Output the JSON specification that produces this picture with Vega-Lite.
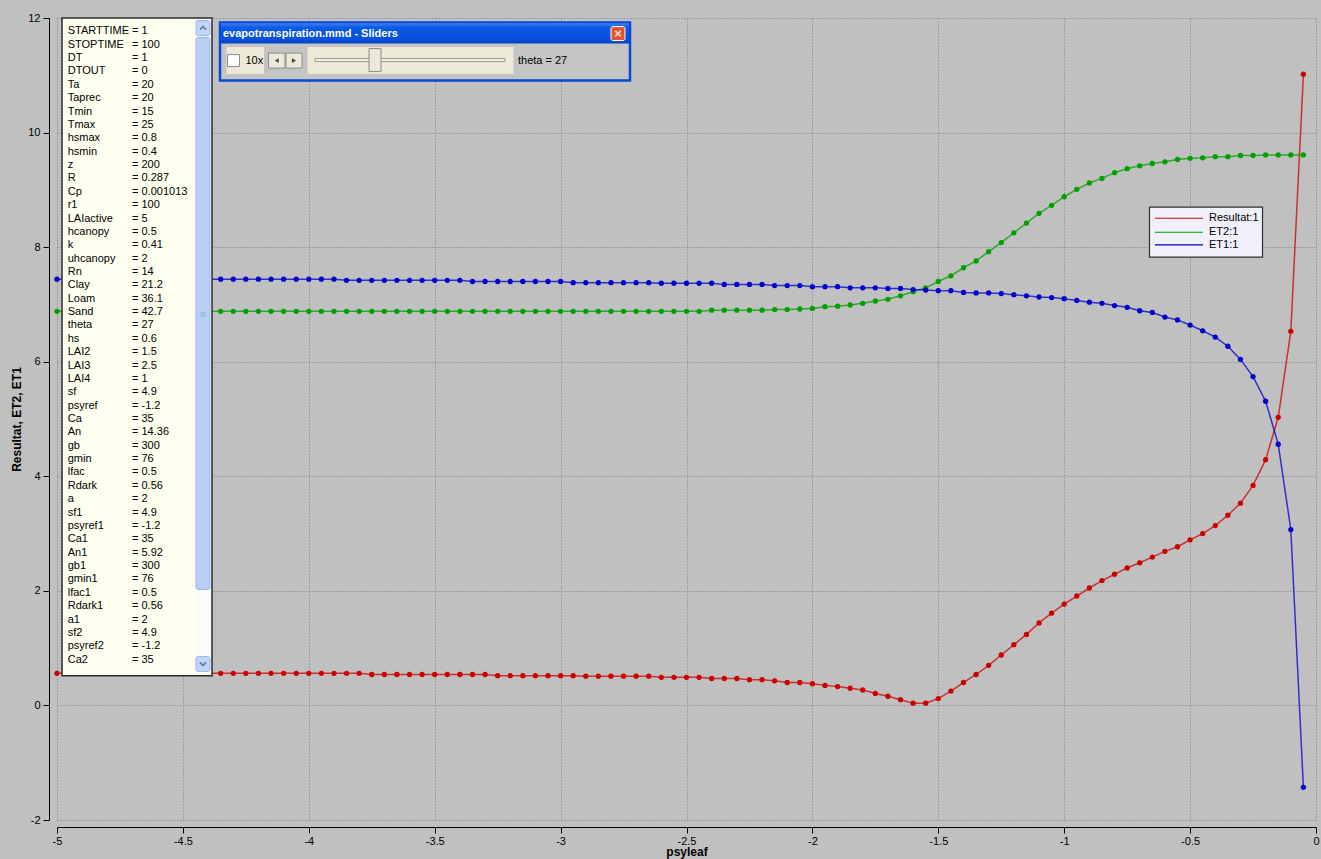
{
  "$schema": "https://vega.github.io/schema/vega-lite/v6.json",
  "width": 1259,
  "height": 802,
  "autosize": "none",
  "padding": {"left": 57, "top": 18, "right": 5, "bottom": 39},
  "background": "#C0C0C0",
  "config": {
    "view": {"stroke": null},
    "font": "Liberation Sans",
    "axis": {
      "labelFont": "Liberation Sans",
      "labelFontSize": 11,
      "labelColor": "#000000",
      "titleFont": "Liberation Sans",
      "titleFontSize": 12,
      "titleFontWeight": "bold",
      "titleColor": "#000000",
      "domainColor": "#000000",
      "tickColor": "#000000",
      "gridColor": "#7C7C7C",
      "gridDash": [1, 2],
      "gridWidth": 1,
      "labelFlush": false,
      "labelOverlap": false
    }
  },
  "datasets": {
    "series": [
      {"psyleaf": -5.00, "Resultat": 0.56, "ET2": 6.88, "ET1": 7.44},
      {"psyleaf": -4.95, "Resultat": 0.56, "ET2": 6.88, "ET1": 7.44},
      {"psyleaf": -4.90, "Resultat": 0.56, "ET2": 6.88, "ET1": 7.44},
      {"psyleaf": -4.85, "Resultat": 0.56, "ET2": 6.88, "ET1": 7.44},
      {"psyleaf": -4.80, "Resultat": 0.56, "ET2": 6.88, "ET1": 7.44},
      {"psyleaf": -4.75, "Resultat": 0.56, "ET2": 6.88, "ET1": 7.44},
      {"psyleaf": -4.70, "Resultat": 0.56, "ET2": 6.88, "ET1": 7.44},
      {"psyleaf": -4.65, "Resultat": 0.56, "ET2": 6.88, "ET1": 7.44},
      {"psyleaf": -4.60, "Resultat": 0.56, "ET2": 6.88, "ET1": 7.44},
      {"psyleaf": -4.55, "Resultat": 0.56, "ET2": 6.88, "ET1": 7.44},
      {"psyleaf": -4.50, "Resultat": 0.56, "ET2": 6.88, "ET1": 7.44},
      {"psyleaf": -4.45, "Resultat": 0.56, "ET2": 6.88, "ET1": 7.44},
      {"psyleaf": -4.40, "Resultat": 0.56, "ET2": 6.88, "ET1": 7.44},
      {"psyleaf": -4.35, "Resultat": 0.56, "ET2": 6.88, "ET1": 7.44},
      {"psyleaf": -4.30, "Resultat": 0.56, "ET2": 6.88, "ET1": 7.44},
      {"psyleaf": -4.25, "Resultat": 0.56, "ET2": 6.88, "ET1": 7.44},
      {"psyleaf": -4.20, "Resultat": 0.56, "ET2": 6.88, "ET1": 7.44},
      {"psyleaf": -4.15, "Resultat": 0.56, "ET2": 6.88, "ET1": 7.44},
      {"psyleaf": -4.10, "Resultat": 0.56, "ET2": 6.88, "ET1": 7.44},
      {"psyleaf": -4.05, "Resultat": 0.56, "ET2": 6.88, "ET1": 7.44},
      {"psyleaf": -4.00, "Resultat": 0.56, "ET2": 6.88, "ET1": 7.44},
      {"psyleaf": -3.95, "Resultat": 0.56, "ET2": 6.88, "ET1": 7.44},
      {"psyleaf": -3.90, "Resultat": 0.56, "ET2": 6.88, "ET1": 7.44},
      {"psyleaf": -3.85, "Resultat": 0.56, "ET2": 6.88, "ET1": 7.42},
      {"psyleaf": -3.80, "Resultat": 0.56, "ET2": 6.88, "ET1": 7.42},
      {"psyleaf": -3.75, "Resultat": 0.54, "ET2": 6.88, "ET1": 7.42},
      {"psyleaf": -3.70, "Resultat": 0.54, "ET2": 6.88, "ET1": 7.42},
      {"psyleaf": -3.65, "Resultat": 0.54, "ET2": 6.88, "ET1": 7.42},
      {"psyleaf": -3.60, "Resultat": 0.54, "ET2": 6.88, "ET1": 7.42},
      {"psyleaf": -3.55, "Resultat": 0.54, "ET2": 6.88, "ET1": 7.42},
      {"psyleaf": -3.50, "Resultat": 0.54, "ET2": 6.88, "ET1": 7.42},
      {"psyleaf": -3.45, "Resultat": 0.54, "ET2": 6.88, "ET1": 7.42},
      {"psyleaf": -3.40, "Resultat": 0.54, "ET2": 6.88, "ET1": 7.42},
      {"psyleaf": -3.35, "Resultat": 0.54, "ET2": 6.88, "ET1": 7.40},
      {"psyleaf": -3.30, "Resultat": 0.54, "ET2": 6.88, "ET1": 7.40},
      {"psyleaf": -3.25, "Resultat": 0.52, "ET2": 6.88, "ET1": 7.40},
      {"psyleaf": -3.20, "Resultat": 0.52, "ET2": 6.88, "ET1": 7.40},
      {"psyleaf": -3.15, "Resultat": 0.52, "ET2": 6.88, "ET1": 7.40},
      {"psyleaf": -3.10, "Resultat": 0.52, "ET2": 6.88, "ET1": 7.40},
      {"psyleaf": -3.05, "Resultat": 0.52, "ET2": 6.88, "ET1": 7.40},
      {"psyleaf": -3.00, "Resultat": 0.52, "ET2": 6.88, "ET1": 7.40},
      {"psyleaf": -2.95, "Resultat": 0.52, "ET2": 6.88, "ET1": 7.38},
      {"psyleaf": -2.90, "Resultat": 0.51, "ET2": 6.88, "ET1": 7.38},
      {"psyleaf": -2.85, "Resultat": 0.51, "ET2": 6.88, "ET1": 7.38},
      {"psyleaf": -2.80, "Resultat": 0.51, "ET2": 6.88, "ET1": 7.38},
      {"psyleaf": -2.75, "Resultat": 0.51, "ET2": 6.88, "ET1": 7.38},
      {"psyleaf": -2.70, "Resultat": 0.51, "ET2": 6.88, "ET1": 7.38},
      {"psyleaf": -2.65, "Resultat": 0.51, "ET2": 6.88, "ET1": 7.38},
      {"psyleaf": -2.60, "Resultat": 0.49, "ET2": 6.88, "ET1": 7.37},
      {"psyleaf": -2.55, "Resultat": 0.49, "ET2": 6.88, "ET1": 7.37},
      {"psyleaf": -2.50, "Resultat": 0.49, "ET2": 6.88, "ET1": 7.37},
      {"psyleaf": -2.45, "Resultat": 0.49, "ET2": 6.88, "ET1": 7.37},
      {"psyleaf": -2.40, "Resultat": 0.47, "ET2": 6.90, "ET1": 7.37},
      {"psyleaf": -2.35, "Resultat": 0.47, "ET2": 6.90, "ET1": 7.35},
      {"psyleaf": -2.30, "Resultat": 0.47, "ET2": 6.90, "ET1": 7.35},
      {"psyleaf": -2.25, "Resultat": 0.45, "ET2": 6.90, "ET1": 7.35},
      {"psyleaf": -2.20, "Resultat": 0.45, "ET2": 6.90, "ET1": 7.35},
      {"psyleaf": -2.15, "Resultat": 0.43, "ET2": 6.91, "ET1": 7.33},
      {"psyleaf": -2.10, "Resultat": 0.40, "ET2": 6.91, "ET1": 7.33},
      {"psyleaf": -2.05, "Resultat": 0.40, "ET2": 6.92, "ET1": 7.33},
      {"psyleaf": -2.00, "Resultat": 0.38, "ET2": 6.93, "ET1": 7.31},
      {"psyleaf": -1.95, "Resultat": 0.35, "ET2": 6.96, "ET1": 7.31},
      {"psyleaf": -1.90, "Resultat": 0.33, "ET2": 6.97, "ET1": 7.31},
      {"psyleaf": -1.85, "Resultat": 0.30, "ET2": 6.99, "ET1": 7.29},
      {"psyleaf": -1.80, "Resultat": 0.27, "ET2": 7.02, "ET1": 7.29},
      {"psyleaf": -1.75, "Resultat": 0.21, "ET2": 7.06, "ET1": 7.29},
      {"psyleaf": -1.70, "Resultat": 0.16, "ET2": 7.09, "ET1": 7.28},
      {"psyleaf": -1.65, "Resultat": 0.10, "ET2": 7.15, "ET1": 7.28},
      {"psyleaf": -1.60, "Resultat": 0.04, "ET2": 7.22, "ET1": 7.26},
      {"psyleaf": -1.55, "Resultat": 0.04, "ET2": 7.29, "ET1": 7.25},
      {"psyleaf": -1.50, "Resultat": 0.12, "ET2": 7.40, "ET1": 7.24},
      {"psyleaf": -1.45, "Resultat": 0.25, "ET2": 7.50, "ET1": 7.24},
      {"psyleaf": -1.40, "Resultat": 0.40, "ET2": 7.64, "ET1": 7.21},
      {"psyleaf": -1.35, "Resultat": 0.54, "ET2": 7.76, "ET1": 7.20},
      {"psyleaf": -1.30, "Resultat": 0.70, "ET2": 7.92, "ET1": 7.20},
      {"psyleaf": -1.25, "Resultat": 0.88, "ET2": 8.08, "ET1": 7.19},
      {"psyleaf": -1.20, "Resultat": 1.06, "ET2": 8.25, "ET1": 7.17},
      {"psyleaf": -1.15, "Resultat": 1.24, "ET2": 8.42, "ET1": 7.15},
      {"psyleaf": -1.10, "Resultat": 1.44, "ET2": 8.59, "ET1": 7.13},
      {"psyleaf": -1.05, "Resultat": 1.61, "ET2": 8.73, "ET1": 7.12},
      {"psyleaf": -1.00, "Resultat": 1.77, "ET2": 8.88, "ET1": 7.10},
      {"psyleaf": -0.95, "Resultat": 1.91, "ET2": 9.01, "ET1": 7.07},
      {"psyleaf": -0.90, "Resultat": 2.05, "ET2": 9.12, "ET1": 7.04},
      {"psyleaf": -0.85, "Resultat": 2.18, "ET2": 9.20, "ET1": 7.02},
      {"psyleaf": -0.80, "Resultat": 2.29, "ET2": 9.30, "ET1": 6.98},
      {"psyleaf": -0.75, "Resultat": 2.40, "ET2": 9.37, "ET1": 6.95},
      {"psyleaf": -0.70, "Resultat": 2.49, "ET2": 9.42, "ET1": 6.89},
      {"psyleaf": -0.65, "Resultat": 2.59, "ET2": 9.46, "ET1": 6.86},
      {"psyleaf": -0.60, "Resultat": 2.69, "ET2": 9.49, "ET1": 6.78},
      {"psyleaf": -0.55, "Resultat": 2.77, "ET2": 9.53, "ET1": 6.73},
      {"psyleaf": -0.50, "Resultat": 2.89, "ET2": 9.55, "ET1": 6.64},
      {"psyleaf": -0.45, "Resultat": 3.00, "ET2": 9.56, "ET1": 6.54},
      {"psyleaf": -0.40, "Resultat": 3.14, "ET2": 9.58, "ET1": 6.43},
      {"psyleaf": -0.35, "Resultat": 3.32, "ET2": 9.58, "ET1": 6.27},
      {"psyleaf": -0.30, "Resultat": 3.53, "ET2": 9.60, "ET1": 6.04},
      {"psyleaf": -0.25, "Resultat": 3.84, "ET2": 9.60, "ET1": 5.74},
      {"psyleaf": -0.20, "Resultat": 4.29, "ET2": 9.61, "ET1": 5.31},
      {"psyleaf": -0.15, "Resultat": 5.03, "ET2": 9.61, "ET1": 4.56},
      {"psyleaf": -0.10, "Resultat": 6.53, "ET2": 9.61, "ET1": 3.07},
      {"psyleaf": -0.05, "Resultat": 11.02, "ET2": 9.61, "ET1": -1.43}
    ],
    "params": [
      {"i": 1, "name": "STARTTIME", "val": "= 1"},
      {"i": 2, "name": "STOPTIME", "val": "= 100"},
      {"i": 3, "name": "DT", "val": "= 1"},
      {"i": 4, "name": "DTOUT", "val": "= 0"},
      {"i": 5, "name": "Ta", "val": "= 20"},
      {"i": 6, "name": "Taprec", "val": "= 20"},
      {"i": 7, "name": "Tmin", "val": "= 15"},
      {"i": 8, "name": "Tmax", "val": "= 25"},
      {"i": 9, "name": "hsmax", "val": "= 0.8"},
      {"i": 10, "name": "hsmin", "val": "= 0.4"},
      {"i": 11, "name": "z", "val": "= 200"},
      {"i": 12, "name": "R", "val": "= 0.287"},
      {"i": 13, "name": "Cp", "val": "= 0.001013"},
      {"i": 14, "name": "r1", "val": "= 100"},
      {"i": 15, "name": "LAIactive", "val": "= 5"},
      {"i": 16, "name": "hcanopy", "val": "= 0.5"},
      {"i": 17, "name": "k", "val": "= 0.41"},
      {"i": 18, "name": "uhcanopy", "val": "= 2"},
      {"i": 19, "name": "Rn", "val": "= 14"},
      {"i": 20, "name": "Clay", "val": "= 21.2"},
      {"i": 21, "name": "Loam", "val": "= 36.1"},
      {"i": 22, "name": "Sand", "val": "= 42.7"},
      {"i": 23, "name": "theta", "val": "= 27"},
      {"i": 24, "name": "hs", "val": "= 0.6"},
      {"i": 25, "name": "LAI2", "val": "= 1.5"},
      {"i": 26, "name": "LAI3", "val": "= 2.5"},
      {"i": 27, "name": "LAI4", "val": "= 1"},
      {"i": 28, "name": "sf", "val": "= 4.9"},
      {"i": 29, "name": "psyref", "val": "= -1.2"},
      {"i": 30, "name": "Ca", "val": "= 35"},
      {"i": 31, "name": "An", "val": "= 14.36"},
      {"i": 32, "name": "gb", "val": "= 300"},
      {"i": 33, "name": "gmin", "val": "= 76"},
      {"i": 34, "name": "lfac", "val": "= 0.5"},
      {"i": 35, "name": "Rdark", "val": "= 0.56"},
      {"i": 36, "name": "a", "val": "= 2"},
      {"i": 37, "name": "sf1", "val": "= 4.9"},
      {"i": 38, "name": "psyref1", "val": "= -1.2"},
      {"i": 39, "name": "Ca1", "val": "= 35"},
      {"i": 40, "name": "An1", "val": "= 5.92"},
      {"i": 41, "name": "gb1", "val": "= 300"},
      {"i": 42, "name": "gmin1", "val": "= 76"},
      {"i": 43, "name": "lfac1", "val": "= 0.5"},
      {"i": 44, "name": "Rdark1", "val": "= 0.56"},
      {"i": 45, "name": "a1", "val": "= 2"},
      {"i": 46, "name": "sf2", "val": "= 4.9"},
      {"i": 47, "name": "psyref2", "val": "= -1.2"},
      {"i": 48, "name": "Ca2", "val": "= 35"}
    ]
  },
  "layer": [
    {
      "layer": [
        {
          "data": {"name": "series"},
          "transform": [{"fold": ["Resultat", "ET2", "ET1"], "as": ["series", "value"]}],
          "encoding": {
            "x": {
              "field": "psyleaf",
              "type": "quantitative",
              "scale": {"domain": [-5, 0], "nice": false, "zero": false},
              "axis": {
                "values": [-5, -4.5, -4, -3.5, -3, -2.5, -2, -1.5, -1, -0.5, 0],
                "title": "psyleaf",
                "labelExpr": "datum.value + ''",
                "offset": 7,
                "tickSize": 6,
                "labelPadding": 2,
                "titlePadding": 0,
                "grid": true
              }
            },
            "y": {
              "field": "value",
              "type": "quantitative",
              "scale": {"domain": [-2, 12], "nice": false, "zero": false},
              "axis": {
                "values": [-2, 0, 2, 4, 6, 8, 10, 12],
                "title": "Resultat, ET2, ET1",
                "labelExpr": "datum.value + ''",
                "offset": 8,
                "tickSize": 6,
                "labelPadding": 3,
                "titlePadding": 4,
                "grid": true
              }
            },
            "color": {
              "field": "series",
              "type": "nominal",
              "scale": {"domain": ["Resultat", "ET2", "ET1"], "range": ["#CC0000", "#00A000", "#0000CC"]},
              "legend": null
            }
          },
          "layer": [
            {"mark": {"type": "line", "strokeWidth": 1.5, "opacity": 0.75}},
            {"mark": {"type": "point", "filled": true, "size": 28, "opacity": 1}}
          ]
        },
        {
          "data": {"values": [{"a": 1}]},
          "mark": {"type": "rect", "fill": "#FFFFF0", "stroke": "#2B2B2B", "strokeWidth": 1.5},
          "encoding": {
            "x": {"datum": -4.9801},
            "x2": {"datum": -4.3844},
            "y": {"datum": 12},
            "y2": {"datum": 0.52}
          }
        },
        {
          "data": {"values": [{"a": 1}]},
          "mark": {"type": "rect", "fill": "#FBFBF8", "stroke": null},
          "encoding": {
            "x": {"datum": -4.452},
            "x2": {"datum": -4.3884},
            "y": {"datum": 11.98},
            "y2": {"datum": 0.54}
          }
        },
        {
          "data": {"values": [{"a": 1}]},
          "mark": {"type": "rect", "fill": "#C1D4FA", "stroke": "#9DB5EA", "strokeWidth": 1, "cornerRadius": 2},
          "encoding": {"x": {"datum": -4.448}, "x2": {"datum": -4.3924}, "y": {"datum": 11.955}, "y2": {"datum": 11.693}}
        },
        {
          "data": {"values": [{"a": 1}]},
          "mark": {"type": "rect", "fill": "#BACFF8", "stroke": "#9DB5EA", "strokeWidth": 1, "cornerRadius": 2},
          "encoding": {"x": {"datum": -4.448}, "x2": {"datum": -4.3924}, "y": {"datum": 11.658}, "y2": {"datum": 2.0244}}
        },
        {
          "data": {"values": [{"a": 1}]},
          "mark": {"type": "rect", "fill": "#C1D4FA", "stroke": "#9DB5EA", "strokeWidth": 1, "cornerRadius": 2},
          "encoding": {"x": {"datum": -4.448}, "x2": {"datum": -4.3924}, "y": {"datum": 0.855}, "y2": {"datum": 0.5934}}
        },
        {
          "data": {"values": [{"a": 1}]},
          "mark": {"type": "point", "shape": "M-1,0.5L0,-0.5L1,0.5", "filled": false, "stroke": "#4D6185", "strokeWidth": 2, "size": 36},
          "encoding": {"x": {"datum": -4.4202}, "y": {"datum": 11.824}}
        },
        {
          "data": {"values": [{"a": 1}]},
          "mark": {"type": "point", "shape": "M-1,-0.5L0,0.5L1,-0.5", "filled": false, "stroke": "#4D6185", "strokeWidth": 2, "size": 36},
          "encoding": {"x": {"datum": -4.4202}, "y": {"datum": 0.7243}}
        },
        {
          "data": {"values": [{"a": 1}]},
          "mark": {"type": "point", "shape": "M-1,-0.6H1M-1,0H1M-1,0.6H1", "filled": false, "stroke": "#8FA9E0", "strokeWidth": 1, "size": 36},
          "encoding": {"x": {"datum": -4.4202}, "y": {"datum": 6.824}}
        },
        {
          "data": {"values": [{"a": 1}]},
          "mark": {"type": "rect", "fill": "#C4C4C4", "stroke": "#0A46D8", "strokeWidth": 2.5},
          "encoding": {"x": {"datum": -4.3527}, "x2": {"datum": -2.7244}, "y": {"datum": 11.9197}, "y2": {"datum": 10.9075}}
        },
        {
          "data": {"values": [{"a": 1}]},
          "mark": {
            "type": "rect",
            "stroke": null,
            "fill": {
              "gradient": "linear",
              "x1": 0, "y1": 0, "x2": 0, "y2": 1,
              "stops": [
                {"offset": 0, "color": "#3A7BF2"},
                {"offset": 0.2, "color": "#0C5AE6"},
                {"offset": 0.8, "color": "#0850DA"},
                {"offset": 1, "color": "#0440C0"}
              ]
            }
          },
          "encoding": {"x": {"datum": -4.3487}, "x2": {"datum": -2.7284}, "y": {"datum": 11.9023}, "y2": {"datum": 11.5532}}
        },
        {
          "data": {"values": [{"t": "evapotranspiration.mmd - Sliders"}]},
          "mark": {"type": "text", "align": "left", "baseline": "middle", "fontSize": 11, "fontWeight": "bold", "color": "#FFFFFF"},
          "encoding": {"x": {"datum": -4.3408}, "y": {"datum": 11.719}, "text": {"field": "t"}}
        },
        {
          "data": {"values": [{"a": 1}]},
          "mark": {"type": "rect", "fill": "#E0542E", "stroke": "#FFFFFF", "strokeWidth": 1, "cornerRadius": 2},
          "encoding": {"x": {"datum": -2.7999}, "x2": {"datum": -2.7443}, "y": {"datum": 11.8499}, "y2": {"datum": 11.6056}}
        },
        {
          "data": {"values": [{"a": 1}]},
          "mark": {"type": "point", "shape": "M-1,-1L1,1M1,-1L-1,1", "filled": false, "stroke": "#FFFFFF", "strokeWidth": 2, "size": 30},
          "encoding": {"x": {"datum": -2.7721}, "y": {"datum": 11.7277}}
        },
        {
          "data": {"values": [{"a": 1}]},
          "mark": {"type": "rect", "fill": "#ECE9D8", "stroke": null},
          "encoding": {"x": {"datum": -4.3268}, "x2": {"datum": -4.1779}, "y": {"datum": 11.4921}, "y2": {"datum": 11.0209}}
        },
        {
          "data": {"values": [{"a": 1}]},
          "mark": {"type": "rect", "fill": "#FFFFFF", "stroke": "#8A8A8A", "strokeWidth": 1},
          "encoding": {"x": {"datum": -4.3229}, "x2": {"datum": -4.2752}, "y": {"datum": 11.3613}, "y2": {"datum": 11.1518}}
        },
        {
          "data": {"values": [{"t": "10x"}]},
          "mark": {"type": "text", "align": "left", "baseline": "middle", "fontSize": 11, "color": "#000000"},
          "encoding": {"x": {"datum": -4.2514}, "y": {"datum": 11.2565}, "text": {"field": "t"}}
        },
        {
          "data": {"values": [{"a": 1}]},
          "mark": {"type": "rect", "fill": "#ECE9D8", "stroke": "#8A8A8A", "strokeWidth": 1},
          "encoding": {"x": {"datum": -4.1601}, "x2": {"datum": -4.0945}, "y": {"datum": 11.3874}, "y2": {"datum": 11.1257}}
        },
        {
          "data": {"values": [{"a": 1}]},
          "mark": {"type": "rect", "fill": "#ECE9D8", "stroke": "#8A8A8A", "strokeWidth": 1},
          "encoding": {"x": {"datum": -4.0905}, "x2": {"datum": -4.027}, "y": {"datum": 11.3874}, "y2": {"datum": 11.1257}}
        },
        {
          "data": {"values": [{"a": 1}]},
          "mark": {"type": "point", "shape": "triangle-left", "filled": true, "color": "#000000", "size": 22},
          "encoding": {"x": {"datum": -4.1273}, "y": {"datum": 11.2565}}
        },
        {
          "data": {"values": [{"a": 1}]},
          "mark": {"type": "point", "shape": "triangle-right", "filled": true, "color": "#000000", "size": 22},
          "encoding": {"x": {"datum": -4.0588}, "y": {"datum": 11.2565}}
        },
        {
          "data": {"values": [{"a": 1}]},
          "mark": {"type": "rect", "fill": "#ECE9D8", "stroke": null},
          "encoding": {"x": {"datum": -4.0052}, "x2": {"datum": -3.187}, "y": {"datum": 11.4921}, "y2": {"datum": 11.0209}}
        },
        {
          "data": {"values": [{"a": 1}]},
          "mark": {"type": "rect", "fill": "#F4F3EE", "stroke": "#9A978C", "strokeWidth": 1},
          "encoding": {"x": {"datum": -3.9754}, "x2": {"datum": -3.2208}, "y": {"datum": 11.2914}, "y2": {"datum": 11.2391}}
        },
        {
          "data": {"values": [{"a": 1}]},
          "mark": {"type": "rect", "fill": "#ECE9D8", "stroke": "#8A8A8A", "strokeWidth": 1},
          "encoding": {"x": {"datum": -3.7609}, "x2": {"datum": -3.7133}, "y": {"datum": 11.466}, "y2": {"datum": 11.0646}}
        },
        {
          "data": {"values": [{"t": "theta = 27"}]},
          "mark": {"type": "text", "align": "left", "baseline": "middle", "fontSize": 11, "color": "#000000"},
          "encoding": {"x": {"datum": -3.1692}, "y": {"datum": 11.2565}, "text": {"field": "t"}}
        },
        {
          "data": {"values": [{"a": 1}]},
          "mark": {"type": "rect", "fill": "#F1F1FD", "stroke": "#303030", "strokeWidth": 1.2},
          "encoding": {"x": {"datum": -0.6612}, "x2": {"datum": -0.2124}, "y": {"datum": 8.6998}, "y2": {"datum": 7.8272}}
        },
        {
          "data": {"values": [{"a": 1}]},
          "mark": {"type": "rule", "color": "#CC0000", "strokeWidth": 1.2},
          "encoding": {"x": {"datum": -0.6394}, "x2": {"datum": -0.4488}, "y": {"datum": 8.5044}}
        },
        {
          "data": {"values": [{"a": 1}]},
          "mark": {"type": "rule", "color": "#00A000", "strokeWidth": 1.2},
          "encoding": {"x": {"datum": -0.6394}, "x2": {"datum": -0.4488}, "y": {"datum": 8.26}}
        },
        {
          "data": {"values": [{"a": 1}]},
          "mark": {"type": "rule", "color": "#0000CC", "strokeWidth": 1.2},
          "encoding": {"x": {"datum": -0.6394}, "x2": {"datum": -0.4488}, "y": {"datum": 8.0401}}
        },
        {
          "data": {"values": [{"t": "Resultat:1"}]},
          "mark": {"type": "text", "align": "left", "baseline": "middle", "fontSize": 11, "color": "#000000"},
          "encoding": {"x": {"datum": -0.425}, "y": {"datum": 8.5044}, "text": {"field": "t"}}
        },
        {
          "data": {"values": [{"t": "ET2:1"}]},
          "mark": {"type": "text", "align": "left", "baseline": "middle", "fontSize": 11, "color": "#000000"},
          "encoding": {"x": {"datum": -0.425}, "y": {"datum": 8.26}, "text": {"field": "t"}}
        },
        {
          "data": {"values": [{"t": "ET1:1"}]},
          "mark": {"type": "text", "align": "left", "baseline": "middle", "fontSize": 11, "color": "#000000"},
          "encoding": {"x": {"datum": -0.425}, "y": {"datum": 8.0401}, "text": {"field": "t"}}
        }
      ]
    },
    {
      "data": {"name": "params"},
      "encoding": {
        "y": {"field": "i", "type": "quantitative", "scale": {"domain": [0, 60], "reverse": true, "nice": false, "zero": false}, "axis": null}
      },
      "layer": [
        {
          "mark": {"type": "text", "align": "left", "baseline": "middle", "fontSize": 11, "color": "#000000"},
          "encoding": {"x": {"datum": -4.9575}, "text": {"field": "name"}}
        },
        {
          "mark": {"type": "text", "align": "left", "baseline": "middle", "fontSize": 11, "color": "#000000"},
          "encoding": {"x": {"datum": -4.7021}, "text": {"field": "val"}}
        }
      ]
    }
  ],
  "resolve": {"scale": {"y": "independent"}}
}
